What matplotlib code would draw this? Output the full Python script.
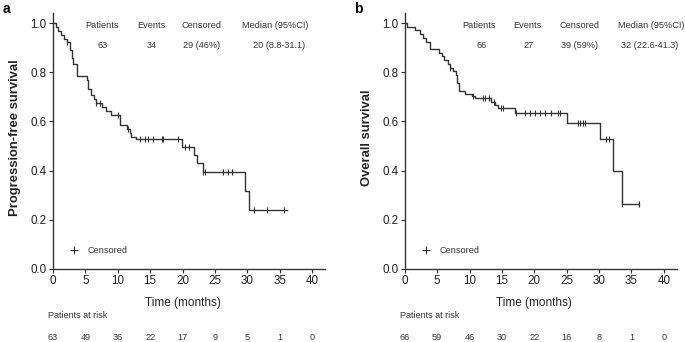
import matplotlib
matplotlib.use("Agg")
import matplotlib.pyplot as plt
import numpy as np

plt.rcParams['font.family'] = ['Liberation Sans', 'DejaVu Sans']

# panel a: progression-free survival (drop times and survival after each drop)
pfs_times = [0, 0.4, 0.8, 1.3, 1.7, 2.1, 2.6, 2.9, 3.1, 3.7, 5.2, 5.4, 5.9, 6.3, 6.6,
             7.6, 8.2, 9.0, 10.3, 11.4, 11.9, 12.1, 12.8, 19.9, 21.7, 22.2, 23.1, 29.65, 30.2]
pfs_surv = [1.0, 0.984, 0.968, 0.952, 0.937, 0.921, 0.889, 0.857, 0.833, 0.786, 0.770,
            0.730, 0.706, 0.690, 0.674, 0.658, 0.641, 0.625, 0.585, 0.570, 0.553, 0.538,
            0.530, 0.497, 0.463, 0.430, 0.393, 0.317, 0.240]
pfs_censor = [2.2, 6.6, 7.2, 10.0, 11.6, 13.4, 14.2, 14.7, 15.4, 16.8, 17.0, 19.3, 20.4,
              21.0, 23.2, 23.5, 26.3, 27.1, 27.6, 31.1, 33.1, 35.7]
pfs_end = 36.1
pfs_header = ["63", "34", "29 (46%)", "20 (8.8-31.1)"]
pfs_risk = [63, 49, 36, 22, 17, 9, 5, 1, 0]

# panel b: overall survival
os_times = [0, 0.3, 1.5, 2.3, 2.8, 3.2, 3.9, 5.3, 5.7, 6.1, 6.7, 6.9, 7.5, 7.9, 8.1, 8.4,
            9.3, 10.3, 10.8, 13.3, 13.9, 14.4, 17.0, 25.0, 30.1, 32.1, 33.6]
os_surv = [1.0, 0.985, 0.970, 0.955, 0.939, 0.924, 0.894, 0.879, 0.864, 0.848, 0.833,
           0.818, 0.803, 0.788, 0.758, 0.722, 0.711, 0.702, 0.694, 0.680, 0.668, 0.656,
           0.633, 0.594, 0.528, 0.398, 0.264]
os_censor = [7.0, 10.6, 12.0, 12.4, 13.0, 13.7, 14.8, 15.1, 17.2, 18.5, 19.3, 20.1, 20.8,
             21.6, 22.5, 23.7, 23.9, 26.8, 27.1, 27.5, 27.9, 31.1, 31.5, 33.6, 36.2]
os_end = 36.2
os_header = ["66", "27", "39 (59%)", "32 (22.6-41.3)"]
os_risk = [66, 59, 46, 30, 22, 16, 8, 1, 0]

header_names = ["Patients", "Events", "Censored", "Median (95%CI)"]
risk_ticks = [0, 5, 10, 15, 20, 25, 30, 35, 40]

col = '#333333'
fig = plt.figure(figsize=(6.85, 3.42), dpi=100)


def draw_km(left, letter, ylabel, times, surv, censor, end, header,
            name_x, value_x, risk):
    ax = fig.add_axes([left, 0.2135, 0.397, 0.748])
    t = np.array(times + [end])
    s = np.array(surv + [surv[-1]])
    ax.step(t, s, where='post', color=col, lw=1.0)
    idx = np.searchsorted(times, censor, side='right') - 1
    cs = np.array(surv)[idx]
    ax.plot(censor, cs, ls='none', marker='|', ms=4, mew=0.8, color=col)

    ax.set_xlim(0, 42)
    ax.set_ylim(0, 1.04)
    ax.set_xticks(np.arange(0, 41, 5))
    ax.set_yticks(np.arange(0, 1.01, 0.2))
    ax.set_yticklabels([f"{v:.1f}" for v in np.arange(0, 1.01, 0.2)])
    ax.spines['top'].set_visible(False)
    ax.spines['right'].set_visible(False)
    for sp in ['left', 'bottom']:
        ax.spines[sp].set_color(col)
        ax.spines[sp].set_linewidth(1.0)
    ax.tick_params(direction='out', length=3, width=0.8, color=col,
                   labelsize=8.4, pad=1.5, labelcolor='#222222')

    ax.set_xlabel("Time (months)", fontsize=8.5, color='#222222')
    ax.xaxis.set_label_coords(20 / 42, -0.108)
    ax.set_ylabel(ylabel, fontsize=9.4, fontweight='bold', color='#222222')
    ax.yaxis.set_label_coords(-0.117, 0.514)

    for nm, vx in zip(header_names, name_x):
        ax.text(vx, 0.988, nm, fontsize=6.6, ha='center', va='center', color='#333333')
    for v, vx in zip(header, value_x):
        ax.text(vx, 0.91, v, fontsize=6.6, ha='center', va='center', color='#333333')

    ax.plot([3.2], [0.077], marker='+', ms=6, mew=0.8, color=col)
    ax.text(5.3, 0.077, "Censored", fontsize=6.6, va='center', color='#333333')

    tr = ax.get_xaxis_transform()
    ax.text(-0.7, -0.182, "Patients at risk", transform=tr, fontsize=6.5,
            va='center', ha='left', color='#333333')
    for x, r in zip(risk_ticks, risk):
        ax.text(x, -0.268, str(r), transform=tr, fontsize=6.6,
                ha='center', va='center', color='#333333')

    fig.text(left - 0.074, 0.975, letter, fontsize=10, fontweight='bold',
             va='center', ha='left')
    return ax


draw_km(0.0774, "a", "Progression-free survival", pfs_times, pfs_surv, pfs_censor,
        pfs_end, pfs_header, [7.6, 15.2, 23.0, 34.3], [7.6, 15.2, 23.0, 34.9], pfs_risk)
draw_km(0.591, "b", "Overall survival", os_times, os_surv, os_censor,
        os_end, os_header, [11.5, 19.0, 26.9, 38.1], [11.8, 19.1, 26.9, 37.8], os_risk)

fig.savefig("out.png", dpi=100)
